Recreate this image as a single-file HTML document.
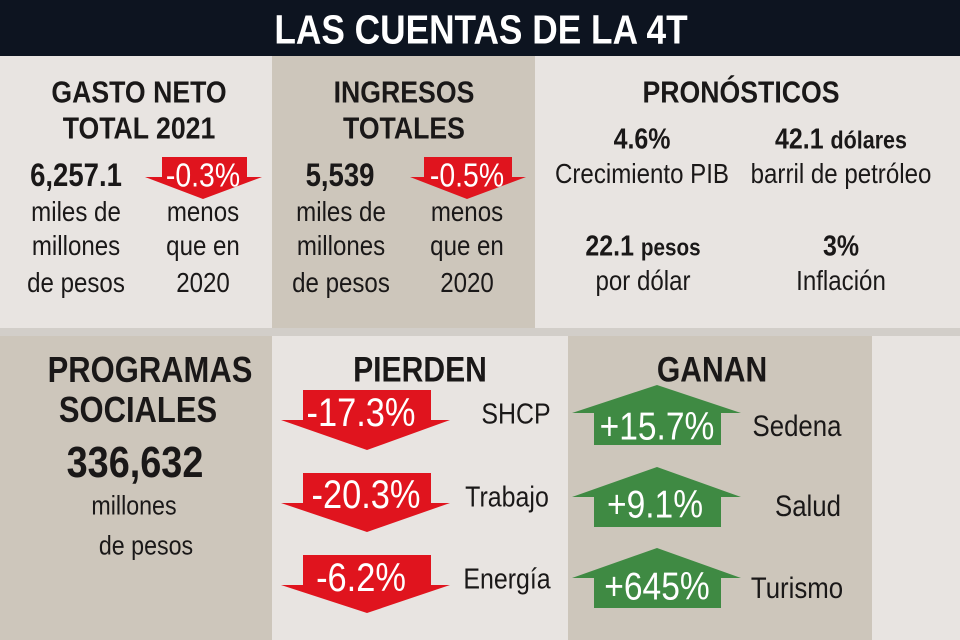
<!DOCTYPE html>
<html><head><meta charset="utf-8"><style>
body{margin:0;width:960px;height:640px;overflow:hidden;background:#e6e2de;font-family:"Liberation Sans",sans-serif;color:#1a1818}
.p{position:absolute}
.t{position:absolute;white-space:nowrap;transform:translate(-50%,-50%) scaleX(.86);line-height:1}
.b{font-weight:bold}
.h{font-size:31px;font-weight:bold}
.n{font-size:28px}
.w{color:#fff}
</style></head><body>
<div class="p" style="left:0;top:0;width:960px;height:56px;background:#0d1420"></div>
<div class="p" style="left:0;top:56px;width:272px;height:272px;background:#e8e4e1"></div>
<div class="p" style="left:272px;top:56px;width:263px;height:272px;background:#cdc6bb"></div>
<div class="p" style="left:535px;top:56px;width:425px;height:272px;background:#e8e4e1"></div>
<div class="p" style="left:0;top:328px;width:960px;height:8px;background:#d2cec9"></div>
<div class="p" style="left:0;top:336px;width:272px;height:304px;background:#cdc6bb"></div>
<div class="p" style="left:272px;top:336px;width:296px;height:304px;background:#e8e4e1"></div>
<div class="p" style="left:568px;top:336px;width:304px;height:304px;background:#cdc6bb"></div>
<div class="p" style="left:872px;top:336px;width:88px;height:304px;background:#e8e4e1"></div>

<svg class="p" style="left:0;top:0" width="960" height="640">
<g fill="#e0141e">
<polygon points="162,157 247,157 247,177 262,177 203,199 145,177 162,177"/>
<polygon points="424,157 512,157 512,177 526,177 467,199 410,177 424,177"/>
<polygon points="303,390 431,390 431,420 450,420 367,450 281,420 303,420"/>
<polygon points="303,473 431,473 431,503 450,503 367,532 281,503 303,503"/>
<polygon points="303,555 431,555 431,585 450,585 367,613 281,585 303,585"/>
</g>
<g fill="#3f8a43">
<polygon points="657,385 741,413 721,413 721,445 594,445 594,413 572,413"/>
<polygon points="657,467 741,497 721,497 721,527 594,527 594,497 572,497"/>
<polygon points="657,548 741,578 721,578 721,608 594,608 594,578 572,578"/>
</g>
</svg>

<div class="t b w" style="left:481px;top:30px;font-size:41px">LAS CUENTAS DE LA 4T</div>

<div class="t h" style="left:139px;top:92px">GASTO NETO</div>
<div class="t h" style="left:139px;top:128px">TOTAL 2021</div>
<div class="t b" style="left:76px;top:175px;font-size:32px">6,257.1</div>
<div class="t n" style="left:76px;top:212px">miles de</div>
<div class="t n" style="left:76px;top:246px">millones</div>
<div class="t n" style="left:76px;top:283px">de pesos</div>
<div class="t w" style="left:203px;top:175px;font-size:33px">-0.3%</div>
<div class="t n" style="left:203px;top:212px">menos</div>
<div class="t n" style="left:203px;top:246px">que en</div>
<div class="t n" style="left:203px;top:283px">2020</div>

<div class="t h" style="left:404px;top:92px">INGRESOS</div>
<div class="t h" style="left:404px;top:128px">TOTALES</div>
<div class="t b" style="left:340px;top:175px;font-size:32px">5,539</div>
<div class="t n" style="left:341px;top:212px">miles de</div>
<div class="t n" style="left:341px;top:246px">millones</div>
<div class="t n" style="left:341px;top:283px">de pesos</div>
<div class="t w" style="left:467px;top:175px;font-size:33px">-0.5%</div>
<div class="t n" style="left:467px;top:212px">menos</div>
<div class="t n" style="left:467px;top:246px">que en</div>
<div class="t n" style="left:467px;top:283px">2020</div>

<div class="t h" style="left:741px;top:92px">PRONÓSTICOS</div>
<div class="t b" style="left:642px;top:140px;font-size:29px">4.6%</div>
<div class="t n" style="left:642px;top:174px">Crecimiento PIB</div>
<div class="t b" style="left:841px;top:140px;font-size:29px">42.1 <span style="font-size:25px">dólares</span></div>
<div class="t n" style="left:841px;top:174px">barril de petróleo</div>
<div class="t b" style="left:643px;top:247px;font-size:29px">22.1 <span style="font-size:24px">pesos</span></div>
<div class="t n" style="left:643px;top:281px">por dólar</div>
<div class="t b" style="left:841px;top:247px;font-size:29px">3%</div>
<div class="t n" style="left:841px;top:281px">Inflación</div>

<div class="t h" style="left:150px;top:370px;font-size:36px">PROGRAMAS</div>
<div class="t h" style="left:138px;top:410px;font-size:36px">SOCIALES</div>
<div class="t b" style="left:135px;top:463px;font-size:44px">336,632</div>
<div class="t n" style="left:134px;top:506px;font-size:27px">millones</div>
<div class="t n" style="left:146px;top:546px;font-size:27px">de pesos</div>

<div class="t h" style="left:420px;top:370px;font-size:35px">PIERDEN</div>
<div class="t h" style="left:712px;top:370px;font-size:35px">GANAN</div>

<div class="t w" style="left:361px;top:413px;font-size:40px">-17.3%</div>
<div class="t w" style="left:366px;top:495px;font-size:40px">-20.3%</div>
<div class="t w" style="left:361px;top:578px;font-size:40px">-6.2%</div>
<div class="t n" style="left:516px;top:415px;font-size:29px">SHCP</div>
<div class="t n" style="left:507px;top:498px;font-size:29px">Trabajo</div>
<div class="t n" style="left:507px;top:580px;font-size:29px">Energía</div>

<div class="t w" style="left:657px;top:427px;font-size:39px">+15.7%</div>
<div class="t w" style="left:655px;top:505px;font-size:39px">+9.1%</div>
<div class="t w" style="left:657px;top:587px;font-size:39px">+645%</div>
<div class="t n" style="left:797px;top:427px;font-size:30px">Sedena</div>
<div class="t n" style="left:808px;top:507px;font-size:30px">Salud</div>
<div class="t n" style="left:797px;top:589px;font-size:30px">Turismo</div>
</body></html>
